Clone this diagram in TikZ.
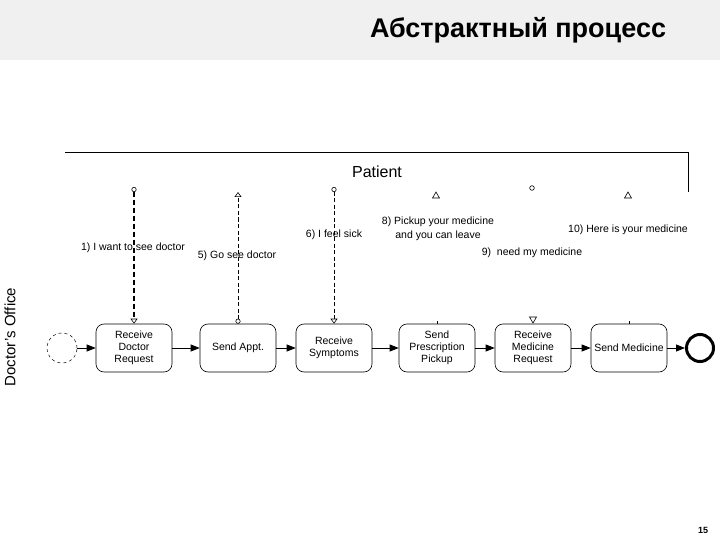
\documentclass[tikz,border=0pt]{standalone}
\usepackage{fontspec}
\setmainfont{Liberation Sans}
\usetikzlibrary{arrows.meta,shapes.geometric}
\tikzset{
  task/.style={draw, line width=0.6pt, rounded corners=8pt, minimum width=76pt, minimum height=48pt, align=center, font=\fontsize{10.5}{12}\selectfont, inner sep=1pt},
  seqflow/.style={line width=0.8pt, -{Triangle[length=9pt,width=7pt]}},
  msgflow/.style={line width=0.7pt, dash pattern=on 4pt off 2.5pt, {Circle[open,length=5pt,width=5pt,line width=0.6pt]}-{Triangle[open,length=5pt,width=7pt,line width=0.6pt]}},
  lbl/.style={font=\fontsize{10.5}{12}\selectfont, align=center, inner sep=1pt},
  openmark/.style={draw, line width=0.6pt, fill=white}
}
\begin{document}
\begin{tikzpicture}[x=1pt,y=-1pt]
\useasboundingbox (0,0) rectangle (720,540);
\fill[black!6] (0,0) rectangle (720,60);
\node[font=\bfseries\fontsize{27}{30}\selectfont] (title) at (518,30) {Абстрактный процесс};

% Patient pool
\draw[line width=1pt] (65,153) -- (688,153) -- (688,192);
\node[font=\fontsize{16}{18}\selectfont] (patient) at (377,172) {Patient};
\node[rotate=90, font=\fontsize{15}{18}\selectfont] (office) at (10,337) {Doctor’s Office};

% Tasks
\node[circle, draw, dashed, line width=0.5pt, minimum size=30pt, inner sep=0pt] (start) at (62,348) {};
\node[task] (b1) at (134,348) {Receive\\Doctor\\Request};
\node[task] (b2) at (238,348) {Send Appt.};
\node[task] (b3) at (334,348) {Receive\\Symptoms};
\node[task] (b4) at (437,348) {Send\\Prescription\\Pickup};
\node[task] (b5) at (533,348) {Receive\\Medicine\\Request};
\node[task] (b6) at (629,348) {Send Medicine};
\node[circle, draw, line width=3pt, minimum size=27pt, inner sep=0pt] (end) at (700,348) {};

\draw[seqflow] (start) -- (b1);
\draw[seqflow] (b1) -- (b2);
\draw[seqflow] (b2) -- (b3);
\draw[seqflow] (b3) -- (b4);
\draw[seqflow] (b4) -- (b5);
\draw[seqflow] (b5) -- (b6);
\draw[seqflow] (b6) -- (end);

% Message flows
\coordinate (p1) at (134,187);
\coordinate (p2) at (238,192);
\coordinate (p3) at (334,187);
\draw[msgflow, line width=1.6pt, dash pattern=on 5pt off 3pt] (p1) -- (b1.north);
\draw[msgflow] (b2.north) -- (p2);
\draw[msgflow] (p3) -- (b3.north);

% Markers without visible lines
\draw[openmark] (432.5,198) -- (436,192) -- (439.5,198) -- cycle;
\draw[openmark] (624.5,198) -- (628,192) -- (631.5,198) -- cycle;
\draw[openmark] (532,188) circle (2.3pt);
\draw[openmark] (529.5,317) -- (533,323) -- (536.5,317) -- cycle;
\draw[line width=0.6pt] (b4.north) -- ++(0,-3);
\draw[line width=0.6pt] (b6.north) -- ++(0,-3);

% Labels
\node[lbl] (l1) at (133,248) {1) I want to see doctor};
\node[lbl] (l5) at (237,256) {5) Go see doctor};
\node[lbl] (l6) at (334,235) {6) I feel sick};
\node[lbl, font=\fontsize{10.5}{14}\selectfont] (l8) at (438,229) {8) Pickup your medicine\\and you can leave};
\node[lbl] (l10) at (628,230) {10) Here is your medicine};
\node[lbl] (l9) at (532,253) {9)\ \ need my medicine};

\node[font=\bfseries\fontsize{9}{10}\selectfont] (page) at (703,530) {15};
\end{tikzpicture}
\end{document}
